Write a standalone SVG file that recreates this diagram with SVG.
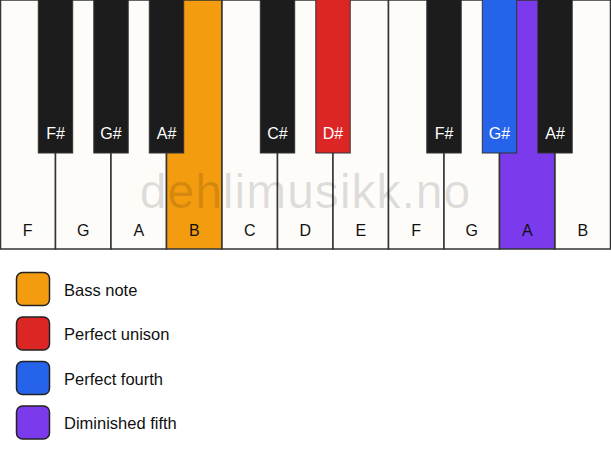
<svg xmlns="http://www.w3.org/2000/svg" width="611" height="461" viewBox="0 0 611 461">
<style>
.wk{fill:#fdfcf9;stroke:#333;stroke-width:1.5}
.bk{fill:#1c1c1c;stroke:#333;stroke-width:1}
.wl{font-family:"Liberation Sans",Arial,sans-serif;font-size:16px;fill:#111;text-anchor:middle}
.bl{font-family:"Liberation Sans",Arial,sans-serif;font-size:16px;fill:#fff;text-anchor:middle}
.lg{stroke:#222;stroke-width:1.5}
.lt{font-family:"Liberation Sans",Arial,sans-serif;font-size:16.5px;fill:#111}
.wm{font-family:"Liberation Sans",Arial,sans-serif;font-size:48px;letter-spacing:1px;fill:#000;fill-opacity:0.12;text-anchor:middle}
</style>
<rect width="611" height="461" fill="#fff"/>
<g id="white-keys">
<g id="wk-F1"><rect class="wk" x="0.5" y="0" width="55" height="249"/><text class="wl" x="27.75" y="236">F</text></g>
<g id="wk-G1"><rect class="wk" x="55.5" y="0" width="55.5" height="249"/><text class="wl" x="83.25" y="236">G</text></g>
<g id="wk-A1"><rect class="wk" x="111" y="0" width="55.5" height="249"/><text class="wl" x="138.75" y="236">A</text></g>
<g id="wk-B1"><rect class="wk" x="166.5" y="0" width="55.5" height="249" style="fill:#f39c0f"/><text class="wl" x="194.25" y="236">B</text></g>
<g id="wk-C"><rect class="wk" x="222" y="0" width="55.5" height="249"/><text class="wl" x="249.75" y="236">C</text></g>
<g id="wk-D"><rect class="wk" x="277.5" y="0" width="55.5" height="249"/><text class="wl" x="305.25" y="236">D</text></g>
<g id="wk-E"><rect class="wk" x="333" y="0" width="55.5" height="249"/><text class="wl" x="360.75" y="236">E</text></g>
<g id="wk-F2"><rect class="wk" x="388.5" y="0" width="55.5" height="249"/><text class="wl" x="416.25" y="236">F</text></g>
<g id="wk-G2"><rect class="wk" x="444" y="0" width="55.5" height="249"/><text class="wl" x="471.75" y="236">G</text></g>
<g id="wk-A2"><rect class="wk" x="499.5" y="0" width="55.5" height="249" style="fill:#7c3aed"/><text class="wl" x="527.25" y="236">A</text></g>
<g id="wk-B2"><rect class="wk" x="555" y="0" width="55.5" height="249"/><text class="wl" x="582.75" y="236">B</text></g>
</g>
<text class="wm" x="305.5" y="208">dehlimusikk.no</text>
<g id="black-keys">
<g id="bk-Fs1"><rect class="bk" x="38.3" y="-1" width="34.4" height="154"/><text class="bl" x="55.5" y="139">F#</text></g>
<g id="bk-Gs1"><rect class="bk" x="93.8" y="-1" width="34.4" height="154"/><text class="bl" x="111" y="139">G#</text></g>
<g id="bk-As1"><rect class="bk" x="149.3" y="-1" width="34.4" height="154"/><text class="bl" x="166.5" y="139">A#</text></g>
<g id="bk-Cs"><rect class="bk" x="260.3" y="-1" width="34.4" height="154"/><text class="bl" x="277.5" y="139">C#</text></g>
<g id="bk-Ds"><rect class="bk" x="315.8" y="-1" width="34.4" height="154" style="fill:#dc2626"/><text class="bl" x="333" y="139">D#</text></g>
<g id="bk-Fs2"><rect class="bk" x="426.8" y="-1" width="34.4" height="154"/><text class="bl" x="444" y="139">F#</text></g>
<g id="bk-Gs2"><rect class="bk" x="482.3" y="-1" width="34.4" height="154" style="fill:#2563eb"/><text class="bl" x="499.5" y="139">G#</text></g>
<g id="bk-As2"><rect class="bk" x="537.8" y="-1" width="34.4" height="154"/><text class="bl" x="555" y="139">A#</text></g>
</g>
<g id="legend">
<g id="lg-bass"><rect class="lg" x="16.5" y="272.5" width="33" height="33" rx="6" fill="#f39c0f"/><text class="lt" x="64" y="295.5">Bass note</text></g>
<g id="lg-unison"><rect class="lg" x="16.5" y="317" width="33" height="33" rx="6" fill="#dc2626"/><text class="lt" x="64" y="340">Perfect unison</text></g>
<g id="lg-fourth"><rect class="lg" x="16.5" y="361.5" width="33" height="33" rx="6" fill="#2563eb"/><text class="lt" x="64" y="384.5">Perfect fourth</text></g>
<g id="lg-dim5"><rect class="lg" x="16.5" y="406" width="33" height="33" rx="6" fill="#7c3aed"/><text class="lt" x="64" y="429">Diminished fifth</text></g>
</g>
</svg>
